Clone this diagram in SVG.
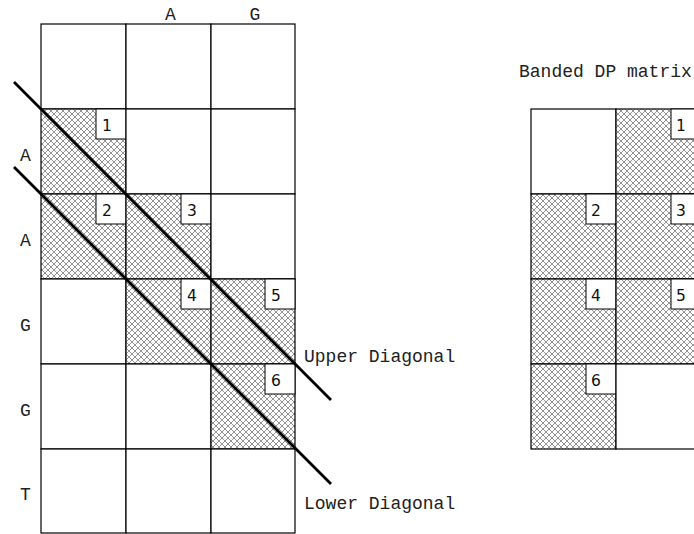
<svg xmlns="http://www.w3.org/2000/svg" width="694" height="534" viewBox="0 0 694 534">
  <defs>
    <pattern id="hatch" patternUnits="userSpaceOnUse" width="6" height="6">
      <rect width="6" height="6" fill="#ffffff"/>
      <path d="M0,0 L6,6 M6,0 L0,6" stroke="#3a3a3a" stroke-width="0.55" fill="none"/>
    </pattern>
  </defs>
  <style>
    .cell { fill: #ffffff; stroke: #000; stroke-width: 1.2; }
    .hat { fill: url(#hatch); stroke: #000; stroke-width: 1.2; }
    .box { fill: #ffffff; stroke: #000; stroke-width: 1; }
    .num { font-family: "DejaVu Sans", sans-serif; font-size: 15.5px; fill: #111; text-anchor: middle; }
    .lbl { font-family: "Liberation Mono", "Courier New", monospace; font-size: 18px; fill: #222; }
    .mid { text-anchor: middle; }
    .diag { stroke: #000; stroke-width: 2.8; fill: none; stroke-linecap: butt; }
  </style>

  <g id="left-matrix">
    <g id="L-r0c0"><rect class="cell" x="41" y="24" width="85" height="85"/></g>
    <g id="L-r0c1"><rect class="cell" x="126" y="24" width="85" height="85"/></g>
    <g id="L-r0c2"><rect class="cell" x="211" y="24" width="84" height="85"/></g>

    <g id="L-r1c0"><rect class="hat" x="41" y="109" width="85" height="85"/><rect class="box" x="96" y="109" width="30" height="30"/><text class="num" x="107" y="131">1</text></g>
    <g id="L-r1c1"><rect class="cell" x="126" y="109" width="85" height="85"/></g>
    <g id="L-r1c2"><rect class="cell" x="211" y="109" width="84" height="85"/></g>

    <g id="L-r2c0"><rect class="hat" x="41" y="194" width="85" height="85"/><rect class="box" x="96" y="194" width="30" height="30"/><text class="num" x="107" y="216">2</text></g>
    <g id="L-r2c1"><rect class="hat" x="126" y="194" width="85" height="85"/><rect class="box" x="181" y="194" width="30" height="30"/><text class="num" x="192" y="216">3</text></g>
    <g id="L-r2c2"><rect class="cell" x="211" y="194" width="84" height="85"/></g>

    <g id="L-r3c0"><rect class="cell" x="41" y="279" width="85" height="85"/></g>
    <g id="L-r3c1"><rect class="hat" x="126" y="279" width="85" height="85"/><rect class="box" x="181" y="279" width="30" height="30"/><text class="num" x="192" y="301">4</text></g>
    <g id="L-r3c2"><rect class="hat" x="211" y="279" width="84" height="85"/><rect class="box" x="265" y="279" width="30" height="30"/><text class="num" x="276" y="301">5</text></g>

    <g id="L-r4c0"><rect class="cell" x="41" y="364" width="85" height="85"/></g>
    <g id="L-r4c1"><rect class="cell" x="126" y="364" width="85" height="85"/></g>
    <g id="L-r4c2"><rect class="hat" x="211" y="364" width="84" height="85"/><rect class="box" x="265" y="364" width="30" height="30"/><text class="num" x="276" y="386">6</text></g>

    <g id="L-r5c0"><rect class="cell" x="41" y="449" width="85" height="84"/></g>
    <g id="L-r5c1"><rect class="cell" x="126" y="449" width="85" height="84"/></g>
    <g id="L-r5c2"><rect class="cell" x="211" y="449" width="84" height="84"/></g>
  </g>

  <g id="labels">
    <text class="lbl mid" x="170.5" y="20">A</text>
    <text class="lbl mid" x="255" y="20">G</text>
    <text class="lbl mid" x="25.5" y="161">A</text>
    <text class="lbl mid" x="25.5" y="246">A</text>
    <text class="lbl mid" x="25.5" y="331">G</text>
    <text class="lbl mid" x="25.5" y="416">G</text>
    <text class="lbl mid" x="25.5" y="500">T</text>
    <text class="lbl" x="304" y="362">Upper Diagonal</text>
    <text class="lbl" x="304" y="509">Lower Diagonal</text>
    <text class="lbl" x="519" y="77">Banded DP matrix</text>
  </g>

  <g id="connectors">
    <line id="upper-diagonal" class="diag" x1="14" y1="82" x2="331" y2="400"/>
    <line id="lower-diagonal" class="diag" x1="14" y1="167" x2="331" y2="484"/>
  </g>

  <g id="right-matrix">
    <g id="R-r0c0"><rect class="cell" x="531" y="109" width="85" height="85"/></g>
    <g id="R-r0c1"><rect class="hat" x="616" y="109" width="85" height="85"/><rect class="box" x="671" y="109" width="30" height="30"/><text class="num" x="681" y="131">1</text></g>
    <g id="R-r1c0"><rect class="hat" x="531" y="194" width="85" height="85"/><rect class="box" x="586" y="194" width="30" height="30"/><text class="num" x="596" y="216">2</text></g>
    <g id="R-r1c1"><rect class="hat" x="616" y="194" width="85" height="85"/><rect class="box" x="671" y="194" width="30" height="30"/><text class="num" x="681" y="216">3</text></g>
    <g id="R-r2c0"><rect class="hat" x="531" y="279" width="85" height="85"/><rect class="box" x="586" y="279" width="30" height="30"/><text class="num" x="596" y="301">4</text></g>
    <g id="R-r2c1"><rect class="hat" x="616" y="279" width="85" height="85"/><rect class="box" x="671" y="279" width="30" height="30"/><text class="num" x="681" y="301">5</text></g>
    <g id="R-r3c0"><rect class="hat" x="531" y="364" width="85" height="85"/><rect class="box" x="586" y="364" width="30" height="30"/><text class="num" x="596" y="386">6</text></g>
    <g id="R-r3c1"><rect class="cell" x="616" y="364" width="85" height="85"/></g>
  </g>
</svg>
